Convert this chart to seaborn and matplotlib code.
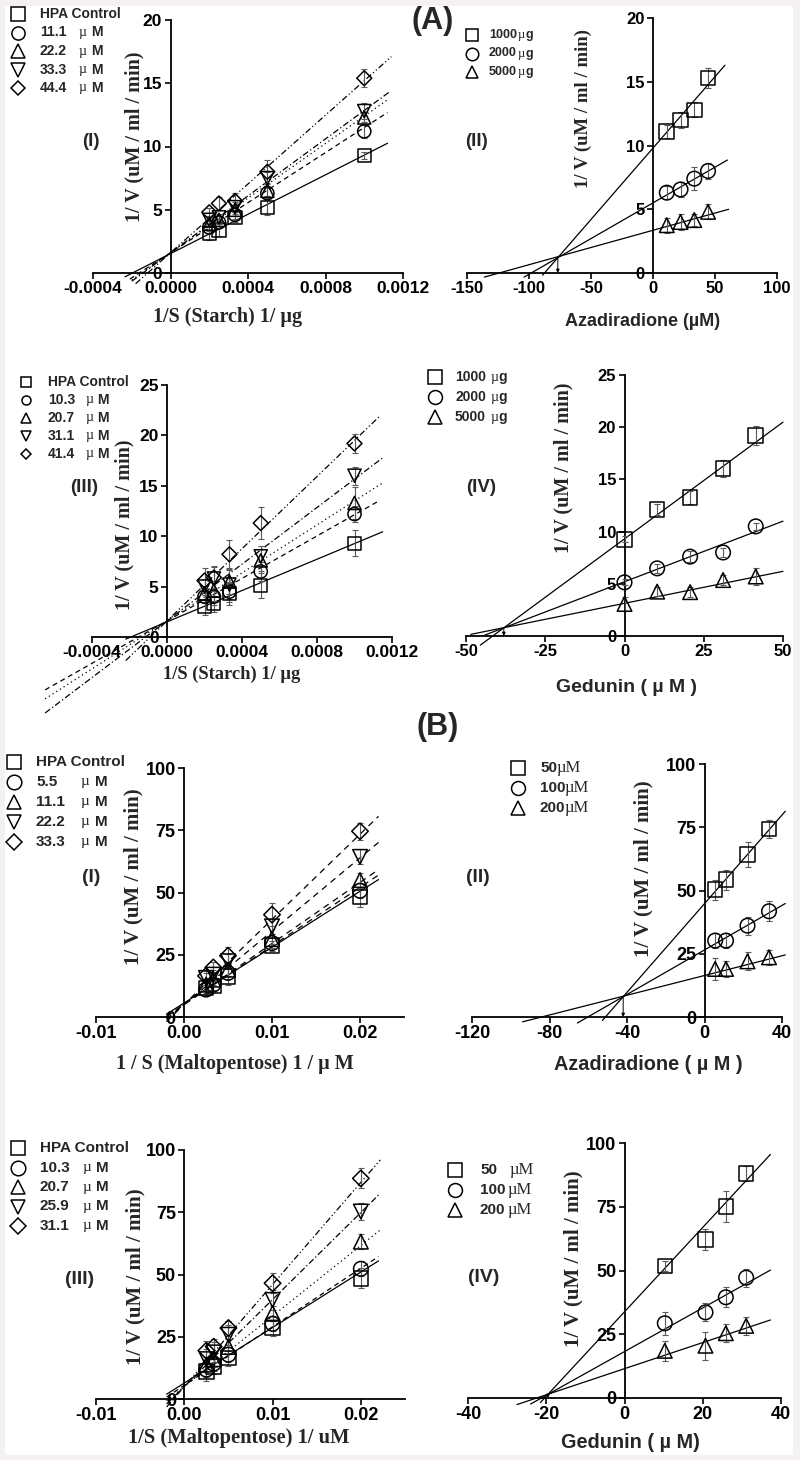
import numpy as np
import matplotlib
matplotlib.use("Agg")
import matplotlib.pyplot as plt
from matplotlib.lines import Line2D
from matplotlib.patches import Rectangle
import seaborn as sns

# ======================= DATA =======================
# (A)(I)  Lineweaver-Burk, starch + azadiradione
a1_x = [0.0002, 0.00025, 0.000333, 0.0005, 0.001]
a1_labels = ["HPA Control", "11.1", "22.2", "33.3", "44.4"]
a1_ctrl = [3.1, 3.4, 4.4, 5.2, 9.3]
a1_c1 = [3.6, 4.0, 4.6, 6.3, 11.2]
a1_c2 = [3.9, 4.2, 5.0, 6.5, 12.3]
a1_c3 = [4.2, 4.4, 5.2, 7.5, 12.8]
a1_c4 = [4.8, 5.5, 5.7, 8.0, 15.4]
a1_err = [[0.5, 0.5, 0.4, 0.6, 0.3], [0.3, 0.3, 0.3, 0.4, 0.5], [0.3, 0.3, 0.3, 0.4, 0.4],
          [0.3, 0.3, 0.4, 0.5, 0.6], [0.3, 0.5, 0.6, 0.9, 0.7]]
a1_slope = [7790, 9900, 10800, 11250, 13600]
a1_icpt = [1.53, 1.6, 1.6, 1.6, 1.6]
a1_xticks = [-0.0004, 0.0, 0.0004, 0.0008, 0.0012]
a1_xticklabels = ["-0.0004", "0.0000", "0.0004", "0.0008", "0.0012"]
a1_yticks = [0, 5, 10, 15, 20]

# (A)(II)  Dixon, azadiradione
a2_x = [11.1, 22.2, 33.3, 44.4]
a2_labels = ["1000", "2000", "5000"]
a2_s1000 = [11.1, 12.0, 12.8, 15.3]
a2_s2000 = [6.3, 6.55, 7.4, 8.0]
a2_s5000 = [3.75, 4.0, 4.15, 4.8]
a2_err = [[0.5, 0.6, 0.6, 0.8], [0.5, 0.6, 0.9, 0.6], [0.6, 0.6, 0.5, 0.6]]
a2_slope = [0.112, 0.056, 0.027]
a2_icpt = [9.8, 5.5, 3.35]
a2_xticks = [-150, -100, -50, 0, 50, 100]
a2_xticklabels = ["-150", "-100", "-50", "0", "50", "100"]
a2_yticks = [0, 5, 10, 15, 20]

# (A)(III)  Lineweaver-Burk, starch + gedunin
a3_x = [0.0002, 0.00025, 0.000333, 0.0005, 0.001]
a3_labels = ["HPA Control", "10.3", "20.7", "31.1", "41.4"]
a3_ctrl = [3.0, 3.3, 4.3, 5.1, 9.3]
a3_c1 = [4.0, 4.0, 4.5, 6.5, 12.2]
a3_c2 = [4.3, 4.6, 5.5, 7.6, 13.3]
a3_c3 = [5.0, 5.8, 5.2, 8.0, 16.0]
a3_c4 = [5.6, 5.9, 8.2, 11.3, 19.2]
a3_err = [[0.8, 0.8, 1.1, 1.2, 1.3], [0.6, 0.8, 1.0, 0.9, 0.8], [0.8, 1.0, 1.2, 1.1, 1.6],
          [0.8, 1.2, 1.4, 1.0, 0.9], [1.2, 1.0, 1.4, 1.6, 0.9]]
a3_slope = [7770, 10530, 11900, 14060, 17900]
a3_icpt = [1.5, 1.6, 1.6, 1.6, 1.6]
a3_xticks = a1_xticks
a3_xticklabels = a1_xticklabels
a3_yticks = [0, 5, 10, 15, 20, 25]

# (A)(IV)  Dixon, gedunin
a4_x = [0, 10.3, 20.7, 31.1, 41.4]
a4_labels = ["1000", "2000", "5000"]
a4_s1000 = [9.26, 12.1, 13.25, 16.06, 19.2]
a4_s2000 = [5.14, 6.48, 7.6, 8.0, 10.5]
a4_s5000 = [3.07, 4.25, 4.2, 5.36, 5.7]
a4_err = [[0.3, 0.5, 0.6, 0.8, 0.9], [0.3, 0.4, 0.5, 0.4, 0.3], [0.7, 0.4, 0.5, 0.5, 0.8]]
a4_slope = [0.2237, 0.116, 0.0613]
a4_icpt = [9.3, 5.2, 3.13]
a4_xticks = [-50, -25, 0, 25, 50]
a4_xticklabels = ["-50", "-25", "0", "25", "50"]
a4_yticks = [0, 5, 10, 15, 20, 25]

# (B)(I)  Lineweaver-Burk, maltopentose + azadiradione
b1_x = [0.0025, 0.00333, 0.005, 0.01, 0.02]
b1_labels = ["HPA Control", "5.5", "11.1", "22.2", "33.3"]
b1_ctrl = [11.6, 12.5, 16.3, 28.6, 48.2]
b1_c1 = [11.0, 13.0, 17.7, 29.7, 50.7]
b1_c2 = [13.0, 15.0, 19.0, 31.3, 55.0]
b1_c3 = [15.7, 17.0, 22.4, 36.4, 64.3]
b1_c4 = [16.5, 19.9, 24.6, 41.1, 74.6]
b1_err = [[2, 2, 3.5, 2, 4], [2, 2, 2.5, 2, 3], [2, 2, 2.5, 2, 3], [2, 2, 3, 3, 3], [2, 2, 3.5, 4.5, 3.5]]
b1_slope = [2244, 2353, 2452, 2946, 3420]
b1_icpt = [5.6, 5.0, 5.0, 5.0, 5.0]
b1_xticks = [-0.01, 0.0, 0.01, 0.02]
b1_xticklabels = ["-0.01", "0.00", "0.01", "0.02"]
b1_yticks = [0, 25, 50, 75, 100]

# (B)(II)  Dixon, azadiradione
b2_x = [5.5, 11.1, 22.2, 33.3]
b2_labels = ["50", "100", "200"]
b2_s50 = [50.3, 54.3, 64.2, 74.3]
b2_s100 = [30.2, 30.2, 36.1, 41.8]
b2_s200 = [19.0, 19.0, 22.0, 23.6]
b2_err = [[4, 4, 5, 3.5], [3, 3, 3.5, 4], [4.5, 3, 3.5, 3]]
b2_slope = [0.876, 0.44, 0.195]
b2_icpt = [44.8, 26.5, 16.4]
b2_xticks = [-120, -80, -40, 0, 40]
b2_xticklabels = ["-120", "-80", "-40", "0", "40"]
b2_yticks = [0, 25, 50, 75, 100]

# (B)(III)  Lineweaver-Burk, maltopentose + gedunin
b3_x = [0.0025, 0.00333, 0.005, 0.01, 0.02]
b3_labels = ["HPA Control", "10.3", "20.7", "25.9", "31.1"]
b3_ctrl = [11.1, 13.0, 16.4, 28.5, 48.5]
b3_c1 = [11.8, 14.2, 17.8, 30.2, 52.3]
b3_c2 = [13.8, 16.0, 20.9, 34.5, 63.2]
b3_c3 = [16.0, 18.7, 25.8, 39.8, 75.3]
b3_c4 = [19.4, 21.0, 28.5, 46.5, 88.6]
b3_err = [[4, 3, 3, 3, 4], [3, 3, 3, 3, 3], [3, 3, 3, 3, 3], [4, 4, 4, 4, 3.5], [4, 3, 3, 4, 4]]
b3_slope = [2230, 2350, 2833, 3495, 4100]
b3_icpt = [6.4, 5.5, 5.0, 5.0, 5.0]
b3_xticks = b1_xticks
b3_xticklabels = b1_xticklabels
b3_yticks = [0, 25, 50, 75, 100]

# (B)(IV)  Dixon, gedunin
b4_x = [10.3, 20.7, 25.9, 31.1]
b4_labels = ["50", "100", "200"]
b4_s50 = [51.8, 62.2, 75.0, 88.0]
b4_s100 = [29.3, 33.6, 39.5, 47.2]
b4_s200 = [18.5, 20.5, 25.4, 28.3]
b4_err = [[2, 4, 6, 3], [4.5, 3.5, 4, 3.5], [4, 5.5, 3.5, 3.5]]
b4_slope = [1.655, 0.857, 0.512]
b4_icpt = [33.8, 18.2, 11.5]
b4_xticks = [-40, -20, 0, 20, 40]
b4_xticklabels = ["-40", "-20", "0", "20", "40"]
b4_yticks = [0, 25, 50, 75, 100]

# ======================= STYLE =======================
sns.set_theme(style="ticks")
plt.rcParams["font.family"] = ["Liberation Sans", "DejaVu Sans"]
plt.rcParams["font.weight"] = "bold"
plt.rcParams["axes.labelweight"] = "bold"
plt.rcParams["axes.edgecolor"] = "black"
plt.rcParams["xtick.color"] = "black"
plt.rcParams["ytick.color"] = "black"

W, H = 800, 1460
fig = plt.figure(figsize=(8, 14.6), dpi=100)
fig.patch.set_facecolor("#f6f1f1")
fig.patches.append(Rectangle((5 / W, 1 - 1455 / H), 788 / W, 1449 / H,
                             transform=fig.transFigure, facecolor="white",
                             edgecolor="none", zorder=-10))


def fx(px):
    return px / W


def fy(py):
    return 1 - py / H


SOLID = "-"
DASH = (0, (4, 3))
DOT = (0, (1, 2.5))
DASHDOT = (0, (5, 2, 1, 2))
DASHDOTDOT = (0, (5, 2, 1, 2, 1, 2))
LONGDASH = (0, (5, 4))

MK5 = ["s", "o", "^", "v", "D"]
MK3 = ["s", "o", "^"]


def draw_panel(box, xlim, ylim, xticks, xticklabels, yticks, tick_fs, x, ys, errs,
               markers, slopes, icpts, xstarts, xends, lstyles, ms=9.5, arrow=False):
    x0, x1, ytop, y0 = box
    ax = fig.add_axes([fx(x0), fy(y0), (x1 - x0) / W, (y0 - ytop) / H])
    ax.set_facecolor("none")
    ax.set_xlim(xlim)
    ax.set_ylim(ylim)
    ax.spines["left"].set_position(("data", 0))
    ax.spines["bottom"].set_position(("data", 0))
    ax.spines["top"].set_visible(False)
    ax.spines["right"].set_visible(False)
    for s in ("left", "bottom"):
        ax.spines[s].set_linewidth(1.3)
        ax.spines[s].set_color("black")
    ax.set_xticks(xticks, labels=xticklabels)
    ax.set_yticks(yticks)
    ax.tick_params(direction="out", length=4, width=1.2, labelsize=tick_fs, pad=2,
                   colors="black")
    for lab in ax.get_xticklabels() + ax.get_yticklabels():
        lab.set_fontweight("bold")
    xa = np.asarray(x, dtype=float)
    for y, e, mk, m, b, xs, xe, ls in zip(ys, errs, markers, slopes, icpts, xstarts, xends, lstyles):
        xx = np.array([xs, xe])
        ax.plot(xx, m * xx + b, color="black", lw=0.9, ls=ls, clip_on=False, zorder=2)
        ax.errorbar(xa, y, yerr=e, fmt="none", ecolor="#5a5a5a", elinewidth=0.8,
                    capsize=2, capthick=0.8, zorder=3, clip_on=False)
        size = (ms * 0.8) ** 2 if mk == "D" else ms ** 2
        sns.scatterplot(x=xa, y=np.asarray(y, dtype=float), marker=mk, s=size,
                        facecolors="none", edgecolor="black", linewidth=1.1,
                        ax=ax, zorder=4, clip_on=False, legend=False)
    if arrow:
        xi = (icpts[1] - icpts[0]) / (slopes[0] - slopes[1])
        yi = slopes[0] * xi + icpts[0]
        ax.annotate("", xy=(xi, 0), xytext=(xi, yi),
                    arrowprops=dict(arrowstyle="-|>", color="black", lw=0.7,
                                    mutation_scale=5, shrinkA=0, shrinkB=0))
    return ax


def set_labels(ax, xlabel, xpos, xfs, xfam, ylabel, ypos, yfs):
    ax.set_xlabel(xlabel, fontsize=xfs, family=xfam, fontweight="bold")
    ax.xaxis.set_label_coords(fx(xpos[0]), fy(xpos[1]), transform=fig.transFigure)
    ax.xaxis.label.set_va("center")
    ax.xaxis.label.set_ha("center")
    ax.set_ylabel(ylabel, fontsize=yfs, family=["Liberation Serif", "DejaVu Serif"],
                  fontweight="bold")
    ax.yaxis.set_label_coords(fx(ypos[0]), fy(ypos[1]), transform=fig.transFigure)
    ax.yaxis.label.set_va("center")
    ax.yaxis.label.set_ha("center")


def draw_legend(markers, labels, mx, tx, y0, dy, ms, fs, mu_x=None, rest_x=None,
                rest="M", mu_text="\u00b5", mu_fs=None):
    for i, (mk, lab) in enumerate(zip(markers, labels)):
        y = y0 + i * dy
        msz = ms * 0.8 if mk == "D" else ms
        fig.add_artist(Line2D([fx(mx)], [fy(y)], transform=fig.transFigure, marker=mk,
                              markersize=msz, mfc="none", mec="black", mew=1.1, ls="none"))
        fig.text(fx(tx), fy(y), lab, fontsize=fs, fontweight="bold", va="center", ha="left")
        if lab != "HPA Control" and mu_x is not None:
            mxp = mu_x[i] if isinstance(mu_x, (list, tuple)) else mu_x
            fig.text(fx(mxp), fy(y), mu_text, fontsize=mu_fs or fs, fontweight="normal",
                     family=["Liberation Serif", "DejaVu Serif"], va="center", ha="left")
            if rest:
                fig.text(fx(rest_x), fy(y), rest, fontsize=fs, fontweight="bold",
                         va="center", ha="left")


YLAB = "1/ V (uM / ml / min)"
SERIF = ["Liberation Serif", "DejaVu Serif"]
SANS = ["Liberation Sans", "DejaVu Sans"]

# ---------------- (A)(I) ----------------
ax = draw_panel((93, 403, 20, 273), (-0.0004, 0.0012), (0, 20), a1_xticks, a1_xticklabels,
                a1_yticks, 12.5, a1_x, [a1_ctrl, a1_c1, a1_c2, a1_c3, a1_c4], a1_err, MK5,
                a1_slope, a1_icpt,
                [-0.000235, -0.00021, -0.0002, -0.0002, -0.00018],
                [0.00112, 0.00112, 0.00112, 0.00113, 0.00114],
                [SOLID, DASH, DOT, DASHDOT, DASHDOTDOT])
set_labels(ax, "1/S (Starch) 1/ \u00b5g", (228, 317), 14.5, SERIF, YLAB, (134, 137), 14.5)
draw_legend(MK5, a1_labels, 18, 40, 14, 18.5, 9.5, 10, mu_x=79, rest_x=91)
fig.text(fx(91), fy(142), "(I)", fontsize=13.5, fontweight="bold", ha="center", va="center")

# ---------------- (A)(II) ----------------
ax = draw_panel((467, 777, 18, 273), (-150, 100), (0, 20), a2_xticks, a2_xticklabels,
                a2_yticks, 12, a2_x, [a2_s1000, a2_s2000, a2_s5000], a2_err, MK3,
                a2_slope, a2_icpt, [-89, -104, -136], [58, 60, 61], [SOLID] * 3, ms=10.5,
                arrow=True)
set_labels(ax, "Azadiradione (\u00b5M)", (643, 321), 13, SANS, YLAB, (583, 109), 13.5)
draw_legend(MK3, a2_labels, 472, 489, 35, 18.5, 9, 9, mu_x=518, rest_x=525, rest="g")
fig.text(fx(477), fy(142), "(II)", fontsize=13.5, fontweight="bold", ha="center", va="center")

# ---------------- (A)(III) ----------------
ax = draw_panel((92, 392, 385, 637), (-0.0004, 0.0012), (0, 25), a3_xticks, a3_xticklabels,
                a3_yticks, 12.5, a3_x, [a3_ctrl, a3_c1, a3_c2, a3_c3, a3_c4], a3_err, MK5,
                a3_slope, a3_icpt,
                [-0.00022, -0.00065, -0.00065, -0.00065, -0.00022],
                [0.00115, 0.00112, 0.00115, 0.00115, 0.00113],
                [SOLID, DASH, DOT, DASHDOT, DASHDOTDOT])
set_labels(ax, "1/S (Starch) 1/ \u00b5g", (232, 674), 13.3, SERIF, YLAB, (124, 525), 14.5)
draw_legend(MK5, a3_labels, 26, 48, 382, 18, 6.5, 10, mu_x=86, rest_x=97)
fig.text(fx(84), fy(488), "(III)", fontsize=13.5, fontweight="bold", ha="center", va="center")

# ---------------- (A)(IV) ----------------
ax = draw_panel((466, 783, 375, 636), (-50, 50), (0, 25), a4_xticks, a4_xticklabels,
                a4_yticks, 12, a4_x, [a4_s1000, a4_s2000, a4_s5000], a4_err, MK3,
                a4_slope, a4_icpt, [-45.5, -44, -48.5], [50, 50, 50], [SOLID] * 3, ms=10.5,
                arrow=True)
set_labels(ax, "Gedunin ( \u00b5 M )", (627, 687), 14, SANS, YLAB, (563, 468), 14.5)
draw_legend(MK3, a4_labels, 435, 455, 377, 20, 10, 10, mu_x=491, rest_x=498, rest="g")
fig.text(fx(481), fy(488), "(IV)", fontsize=13.5, fontweight="bold", ha="center", va="center")

# ---------------- (B)(I) ----------------
ax = draw_panel((96, 404, 768, 1017), (-0.01, 0.025), (0, 100), b1_xticks, b1_xticklabels,
                b1_yticks, 13, b1_x, [b1_ctrl, b1_c1, b1_c2, b1_c3, b1_c4], b1_err, MK5,
                b1_slope, b1_icpt, [-0.002] * 5, [0.0221] * 5,
                [SOLID, LONGDASH, LONGDASH, LONGDASH, LONGDASH], ms=10.5)
set_labels(ax, "1 / S (Maltopentose) 1 / \u00b5 M", (235, 1064), 14.5, SERIF, YLAB, (133, 877), 15)
draw_legend(MK5, b1_labels, 14, 36, 762, 20, 10.5, 11, mu_x=81, rest_x=95)
fig.text(fx(91), fy(877), "(I)", fontsize=14, fontweight="bold", ha="center", va="center")

# ---------------- (B)(II) ----------------
ax = draw_panel((472, 782, 764, 1017), (-120, 40), (0, 100), b2_xticks, b2_xticklabels,
                b2_yticks, 13, b2_x, [b2_s50, b2_s100, b2_s200], b2_err, MK3,
                b2_slope, b2_icpt, [-52.7, -65.6, -93.9], [41.7, 41.7, 41.7], [SOLID] * 3,
                ms=10.5, arrow=True)
set_labels(ax, "Azadiradione ( \u00b5 M )", (648, 1065), 14.3, SANS, YLAB, (643, 869), 15)
draw_legend(MK3, b2_labels, 518, 540, 768, 20, 10, 11, mu_x=[557, 565, 565], rest="",
            mu_text="\u00b5M", mu_fs=12)
fig.text(fx(478), fy(877), "(II)", fontsize=14, fontweight="bold", ha="center", va="center")

# ---------------- (B)(III) ----------------
ax = draw_panel((96, 405, 1150, 1399), (-0.01, 0.025), (0, 100), b3_xticks, b3_xticklabels,
                b3_yticks, 13, b3_x, [b3_ctrl, b3_c1, b3_c2, b3_c3, b3_c4], b3_err, MK5,
                b3_slope, b3_icpt, [-0.002] * 5, [0.022, 0.022, 0.0222, 0.0222, 0.0222],
                [SOLID, DASH, DOT, DASHDOT, DASHDOTDOT], ms=10.5)
set_labels(ax, "1/S (Maltopentose) 1/ uM", (239, 1438), 14.8, SERIF, YLAB, (135, 1277), 15)
draw_legend(MK5, b3_labels, 18, 40, 1148, 19.5, 10.5, 11, mu_x=83, rest_x=96)
fig.text(fx(80), fy(1280), "(III)", fontsize=14, fontweight="bold", ha="center", va="center")

# ---------------- (B)(IV) ----------------
ax = draw_panel((468, 781, 1143, 1398), (-40, 40), (0, 100), b4_xticks, b4_xticklabels,
                b4_yticks, 13, b4_x, [b4_s50, b4_s100, b4_s200], b4_err, MK3,
                b4_slope, b4_icpt, [-21.5, -24, -27.5], [37.3, 37.3, 37.3], [SOLID] * 3,
                ms=10.5, arrow=True)
set_labels(ax, "Gedunin ( \u00b5 M)", (630, 1443), 14.3, SANS, YLAB, (573, 1259), 15)
draw_legend(MK3, b4_labels, 455, 480, 1170, 20, 10, 11, mu_x=[510, 508, 508], rest="",
            mu_text="\u00b5M", mu_fs=12)
fig.text(fx(484), fy(1278), "(IV)", fontsize=14, fontweight="bold", ha="center", va="center")

# ---------------- section titles ----------------
fig.text(fx(433), fy(21), "(A)", fontsize=22, fontweight="bold", ha="center", va="center")
fig.text(fx(438), fy(727), "(B)", fontsize=22, fontweight="bold", ha="center", va="center")

fig.savefig("out.png", dpi=100, facecolor=fig.get_facecolor())
